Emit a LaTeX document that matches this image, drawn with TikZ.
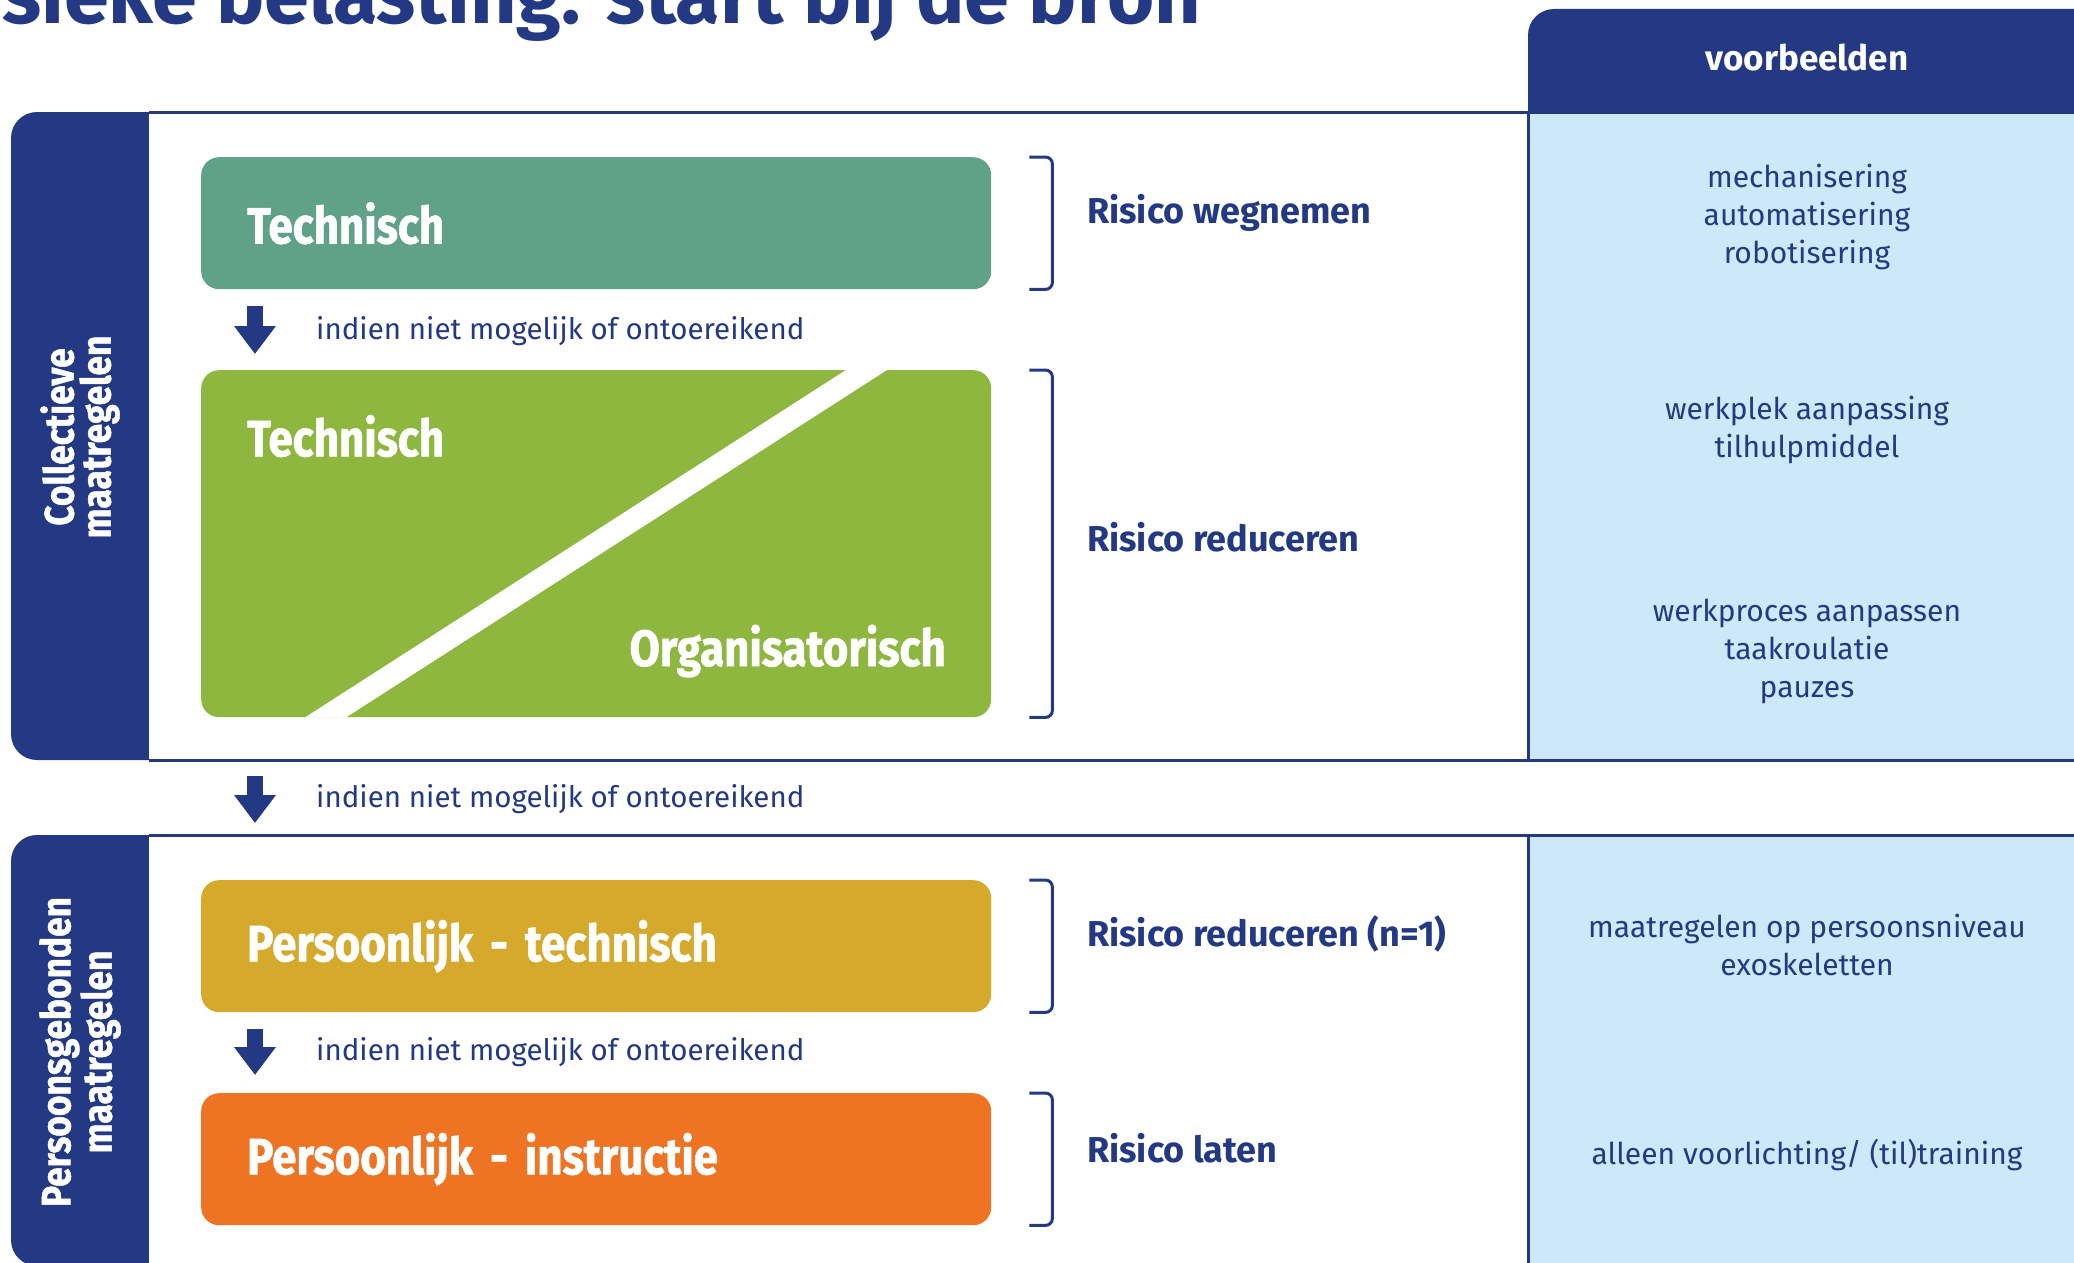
\documentclass[tikz,border=0pt]{standalone}
\usepackage{fontspec}
\setmainfont{Fira Sans}
\newfontfamily\condfont[FakeStretch=0.86, FakeBold=1.2]{Fira Sans}
\usetikzlibrary{arrows.meta}

\definecolor{hdblue}{RGB}{35,57,132}
\definecolor{colblue}{RGB}{205,232,249}
\definecolor{techgreen}{RGB}{95,162,136}
\definecolor{orggreen}{RGB}{141,183,63}
\definecolor{persgold}{RGB}{212,169,44}
\definecolor{persorange}{RGB}{238,116,36}

\tikzset{
  measure/.style={rounded corners=18pt, minimum width=790pt, minimum height=132pt,
    anchor=north west, inner xsep=46pt, text width=698pt, align=left, text=white,
    font=\condfont\bfseries\fontsize{51}{56}\selectfont},
  measure text/.style={text=white, inner sep=0pt, font=\condfont\bfseries\fontsize{51}{56}\selectfont},
  hint/.style={anchor=west, inner sep=0pt, text=hdblue, font=\fontsize{29.5}{34}\selectfont},
  risk/.style={anchor=west, inner sep=0pt, text=hdblue, font=\bfseries\fontsize{36}{40}\selectfont},
  example/.style={align=center, inner sep=0pt, text=hdblue, font=\fontsize{30}{38}\selectfont},
  sidebar/.style={rotate=90, align=center, text=white, font=\condfont\bfseries\fontsize{41}{37}\selectfont},
  frameline/.style={draw=hdblue, line width=3pt},
  fatarrow/.style={draw=hdblue, line width=16pt, -{Triangle[width=40pt,length=28pt]}},
  bracket/.style={draw=hdblue, line width=3pt, rounded corners=7pt},
}

\begin{document}
\begin{tikzpicture}[x=1pt, y=-1pt]
\useasboundingbox (0,0) rectangle (2074,1263);
\clip (0,0) rectangle (2074,1263);

% title, runs off the top edge
\node[anchor=base west, inner sep=0pt, text=hdblue, font=\bfseries\fontsize{81}{81}\selectfont] (title) at (2,24) {sieke belasting: start bij de bron};

% header of the right column
\fill[hdblue, rounded corners=26pt] (1528,9) rectangle (2120,200);
\node[text=white, font=\bfseries\fontsize{35}{40}\selectfont] (head) at (1807,58) {voorbeelden};

% collective block
\fill[hdblue, rounded corners=26pt] (11,112) rectangle (200,760);
\fill[white] (149,112) rectangle (1528,760);
\fill[colblue] (1528,112) rectangle (2120,760);
\draw[frameline] (149,112) -- (2120,112) (149,760) -- (2120,760) (1528,112) -- (1528,760);

% personal block
\fill[hdblue, rounded corners=26pt] (11,835) rectangle (200,1266);
\fill[white] (149,835) rectangle (1528,1266);
\fill[colblue] (1528,835) rectangle (2120,1266);
\draw[frameline] (149,835) -- (2120,835) (1528,835) -- (1528,1266);

\node[sidebar] (coll) at (80,437) {Collectieve\\maatregelen};
\node[sidebar] (pers) at (80,1052) {Persoonsgebonden\\maatregelen};

% the measures
\node[measure, fill=techgreen] (tech) at (201,157) {Technisch};
\node[measure, fill=orggreen, minimum height=347pt] (mixed) at (201,370) {};
\fill[white] ([xshift=104pt]mixed.south west) -- ([xshift=145pt]mixed.south west)
  -- ([xshift=686pt]mixed.north west) -- ([xshift=645pt]mixed.north west) -- cycle;
\node[measure text, anchor=west] (mixedtech) at (247,436) {Technisch};
\node[measure text, anchor=east] (mixedorg) at (946,651) {Organisatorisch};
\node[measure, fill=persgold] (perstech) at (201,880) {Persoonlijk - technisch};
\node[measure, fill=persorange] (persinstr) at (201,1093) {Persoonlijk - instructie};

% steps down
\draw[fatarrow, shorten <=17pt, shorten >=16pt] ([xshift=54pt]tech.south west) -- ([xshift=54pt]mixed.north west);
\draw[fatarrow, shorten <=59pt, shorten >=57pt] ([xshift=54pt]mixed.south west) -- ([xshift=54pt]perstech.north west);
\draw[fatarrow, shorten <=17pt, shorten >=18pt] ([xshift=54pt]perstech.south west) -- ([xshift=54pt]persinstr.north west);
\node[hint] (hint1) at (316,331) {indien niet mogelijk of ontoereikend};
\node[hint] (hint2) at (316,799) {indien niet mogelijk of ontoereikend};
\node[hint] (hint3) at (316,1052) {indien niet mogelijk of ontoereikend};

% brackets and effect on the risk
\draw[bracket] ([xshift=38pt]tech.north east) -| ([xshift=61pt]tech.south east) -- ([xshift=38pt]tech.south east);
\draw[bracket] ([xshift=38pt]mixed.north east) -| ([xshift=61pt]mixed.south east) -- ([xshift=38pt]mixed.south east);
\draw[bracket] ([xshift=38pt]perstech.north east) -| ([xshift=61pt]perstech.south east) -- ([xshift=38pt]perstech.south east);
\draw[bracket] ([xshift=38pt]persinstr.north east) -| ([xshift=61pt]persinstr.south east) -- ([xshift=38pt]persinstr.south east);
\node[risk] (risk1) at (1087,213) {Risico wegnemen};
\node[risk] (risk2) at (1087,537) {Risico reduceren};
\node[risk] (risk3) at (1087,934) {Risico reduceren (n=1)};
\node[risk] (risk4) at (1087,1148) {Risico laten};

% examples
\node[example] (ex1) at (1807,217) {mechanisering\\automatisering\\robotisering};
\node[example] (ex2) at (1807,430) {werkplek aanpassing\\tilhulpmiddel};
\node[example] (ex3) at (1807,651) {werkproces aanpassen\\taakroulatie\\pauzes};
\node[example] (ex4) at (1807,945) {maatregelen op persoonsniveau\\exoskeletten};
\node[example] (ex5) at (1807,1155) {alleen voorlichting/ (til)training};
\end{tikzpicture}
\end{document}
